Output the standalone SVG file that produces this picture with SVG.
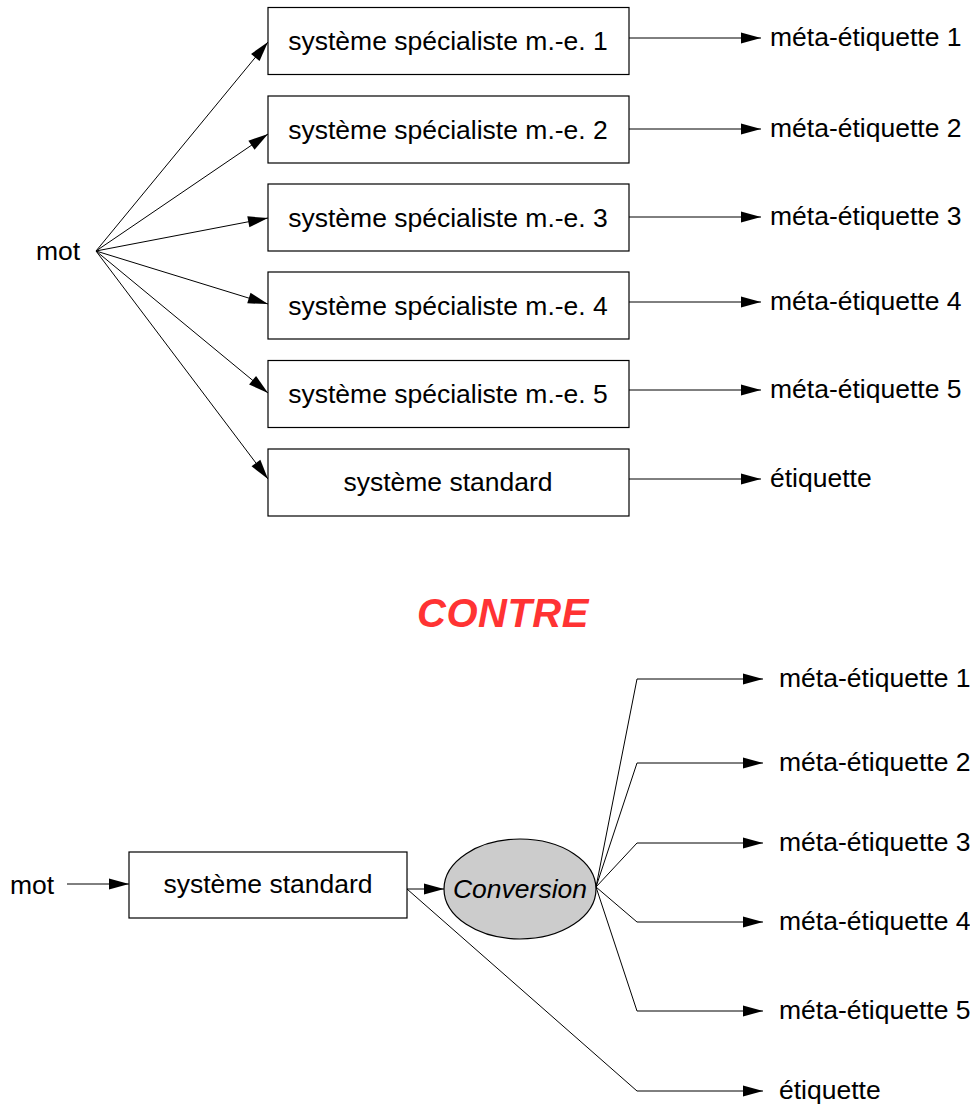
<svg xmlns="http://www.w3.org/2000/svg" width="970" height="1106" viewBox="0 0 970 1106">
<style>
text{font-family:"Liberation Sans",Arial,sans-serif;font-size:26.5px;fill:#000}
.box{fill:#fff;stroke:#000;stroke-width:1.2}
.c{text-anchor:middle}
.ln{fill:none;stroke:#000;stroke-width:1}
.ell{fill:#cccccc;stroke:#000;stroke-width:1.2}
.contre{font-weight:bold;font-style:italic;font-size:40px;letter-spacing:0.5px;fill:#ff3333}
</style>
<defs>
<marker id="ah" markerUnits="userSpaceOnUse" markerWidth="20" markerHeight="11" refX="20" refY="5.5" orient="auto" overflow="visible">
<path d="M0,0 L20,5.5 L0,11 z" fill="#000"/>
</marker>
</defs>
<g id="connectors">
<path class="ln" marker-end="url(#ah)" d="M96,251 L268,42"/>
<path class="ln" marker-end="url(#ah)" d="M96,251 L268,134"/>
<path class="ln" marker-end="url(#ah)" d="M96,251 L268,218"/>
<path class="ln" marker-end="url(#ah)" d="M96,251 L268,304"/>
<path class="ln" marker-end="url(#ah)" d="M96,251 L268,393"/>
<path class="ln" marker-end="url(#ah)" d="M96,251 L268,479"/>
<path class="ln" marker-end="url(#ah)" d="M629,38 L761,38"/>
<path class="ln" marker-end="url(#ah)" d="M629,129 L761,129"/>
<path class="ln" marker-end="url(#ah)" d="M629,217 L761,217"/>
<path class="ln" marker-end="url(#ah)" d="M629,302 L761,302"/>
<path class="ln" marker-end="url(#ah)" d="M629,390 L761,390"/>
<path class="ln" marker-end="url(#ah)" d="M629,479 L761,479"/>
<path class="ln" marker-end="url(#ah)" d="M67,884 L129,884"/>
<path class="ln" marker-end="url(#ah)" d="M407,889 L444,889"/>
<path class="ln" marker-end="url(#ah)" d="M596,887 L637,679 L763,679"/>
<path class="ln" marker-end="url(#ah)" d="M596,887 L637,763 L763,763"/>
<path class="ln" marker-end="url(#ah)" d="M596,887 L637,843 L763,843"/>
<path class="ln" marker-end="url(#ah)" d="M596,887 L637,922 L763,922"/>
<path class="ln" marker-end="url(#ah)" d="M596,887 L637,1011 L763,1011"/>
<path class="ln" marker-end="url(#ah)" d="M407,889 L637,1091 L763,1091"/>
</g>
<g id="mot1"><text x="36" y="260">mot</text></g>
<g id="sp1"><rect class="box" x="268" y="7.5" width="361" height="67"/><text class="c" x="448" y="50">système spécialiste m.-e. 1</text></g>
<g id="sp2"><rect class="box" x="268" y="96" width="361" height="67"/><text class="c" x="448" y="139">système spécialiste m.-e. 2</text></g>
<g id="sp3"><rect class="box" x="268" y="184" width="361" height="67"/><text class="c" x="448" y="227">système spécialiste m.-e. 3</text></g>
<g id="sp4"><rect class="box" x="268" y="272" width="361" height="67"/><text class="c" x="448" y="315">système spécialiste m.-e. 4</text></g>
<g id="sp5"><rect class="box" x="268" y="360.5" width="361" height="67"/><text class="c" x="448" y="403">système spécialiste m.-e. 5</text></g>
<g id="std1"><rect class="box" x="268" y="449" width="361" height="67"/><text class="c" x="448" y="491">système standard</text></g>
<g id="me1"><text x="770" y="46">méta-étiquette 1</text></g>
<g id="me2"><text x="770" y="137">méta-étiquette 2</text></g>
<g id="me3"><text x="770" y="225">méta-étiquette 3</text></g>
<g id="me4"><text x="770" y="310">méta-étiquette 4</text></g>
<g id="me5"><text x="770" y="398">méta-étiquette 5</text></g>
<g id="et1"><text x="770" y="487">étiquette</text></g>
<g id="contre"><text class="contre c" x="503" y="627">CONTRE</text></g>
<g id="mot2"><text x="10" y="894">mot</text></g>
<g id="std2"><rect class="box" x="129" y="852" width="278" height="66"/><text class="c" x="268" y="893">système standard</text></g>
<g id="conv"><ellipse class="ell" cx="520" cy="889" rx="76" ry="50"/><text class="c" x="520" y="898" font-style="italic">Conversion</text></g>
<g id="bme1"><text x="779" y="687">méta-étiquette 1</text></g>
<g id="bme2"><text x="779" y="771">méta-étiquette 2</text></g>
<g id="bme3"><text x="779" y="851">méta-étiquette 3</text></g>
<g id="bme4"><text x="779" y="930">méta-étiquette 4</text></g>
<g id="bme5"><text x="779" y="1019">méta-étiquette 5</text></g>
<g id="bet"><text x="779" y="1099">étiquette</text></g>
</svg>
